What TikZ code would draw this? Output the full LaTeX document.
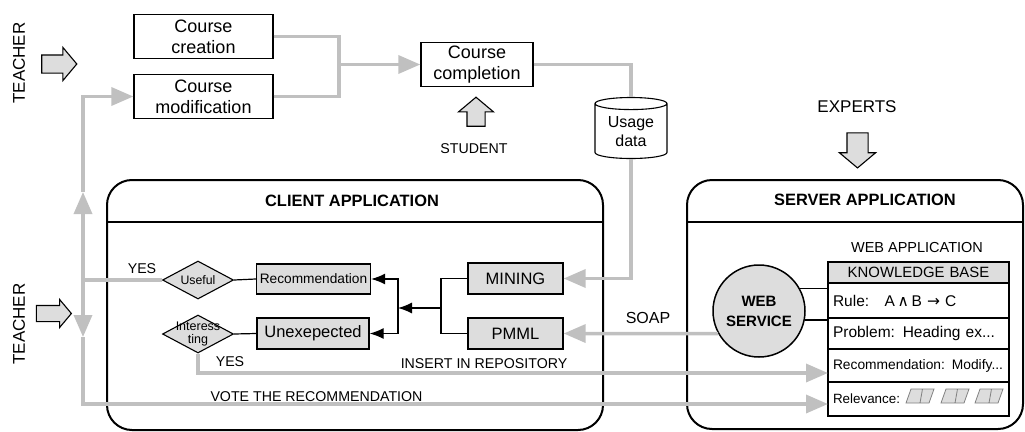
\documentclass[tikz,border=0pt]{standalone}
\usepackage{fontspec}
\setmainfont{Liberation Sans}
\newfontfamily\symbolfont{DejaVu Sans}
\usetikzlibrary{arrows.meta,positioning,shapes.geometric,shapes.arrows}
\definecolor{linegray}{RGB}{192,192,192}
\definecolor{boxgray}{RGB}{221,221,221}
\begin{document}
\begin{tikzpicture}
  [x=1pt,y=-1pt,
   course/.style={draw,line width=1.3pt,minimum width=139pt,minimum height=44pt,align=center,font=\fontsize{18}{21}\selectfont},
   proc/.style={draw,line width=1.3pt,fill=boxgray,minimum width=95pt,minimum height=31pt,font=\fontsize{16.5}{19}\selectfont},
   decision/.style={diamond,draw,line width=1.1pt,fill=boxgray,minimum width=71pt,minimum height=38pt,inner sep=0pt,aspect=1.9,font=\fontsize{12.3}{13}\selectfont},
   panel/.style={draw,line width=2pt,rounded corners=25pt},
   title/.style={font=\bfseries\fontsize{16.4}{19}\selectfont},
   tag/.style={font=\fontsize{14.2}{16}\selectfont},
   actor/.style={single arrow,draw,line width=1.1pt,fill=boxgray,inner xsep=0pt,single arrow tip angle=100},
   kbrow/.style={draw,line width=1.1pt,outer sep=0pt,text width=171pt,inner xsep=5pt,align=left,font=\fontsize{15.5}{18}\selectfont},
   gline/.style={draw=linegray,line width=3.5pt},
   garrow/.style={gline,-{Triangle[length=22pt,width=18pt]}},
   bline/.style={line width=1.2pt},
   barrow/.style={bline,-{Latex[length=14pt,width=11pt]}}]
  \useasboundingbox (0,0) rectangle (1025,431);

  \node[rotate=90,font=\fontsize{17}{20}\selectfont] (teacher1) at (19,63) {TEACHER};
  \node[actor,minimum height=35pt,inner ysep=8.5pt,single arrow head extend=7.5pt] (teacherarrow1) at (55.5,64) {};
  \node[course] (creation) at (203.5,36.5) {Course\\creation};
  \node[course] (modification) at (203.5,96.5) {Course\\modification};
  \node[course,minimum width=112pt] (completion) at (477,64.5) {Course\\completion};
  \node[actor,rotate=90,minimum height=29pt,inner ysep=8.5pt,single arrow head extend=8.5pt] (studentarrow) at (476,115.5) {};
  \node[tag] (student) at (474,149) {STUDENT};
  \node[cylinder,shape border rotate=90,draw,line width=1.1pt,aspect=0.25,minimum width=72pt,minimum height=61pt,align=center,inner sep=1pt,font=\fontsize{16}{19}\selectfont] (usage) at (631,132) {Usage\\data};
  \node[font=\fontsize{17}{20}\selectfont] (experts) at (857,107) {EXPERTS};
  \node[actor,rotate=-90,minimum height=35pt,inner ysep=10pt,single arrow head extend=7.5pt] (expertsarrow) at (857.5,146) {};

  \node[panel,minimum width=496pt,minimum height=250pt] (client) at (355,305) {};
  \draw[line width=1.5pt] ([yshift=-43pt]client.north west) -- ([yshift=-43pt]client.north east);
  \node[title] (clienttitle) at (352,201) {CLIENT APPLICATION};
  \node[panel,minimum width=336pt,minimum height=249pt] (server) at (855,304.5) {};
  \draw[line width=1.5pt] ([yshift=-43pt]server.north west) -- ([yshift=-43pt]server.north east);
  \node[title] (servertitle) at (865,200) {SERVER APPLICATION};

  \node[decision] (useful) at (198,280) {Useful};
  \node[decision,label={[align=center,font=\fontsize{12.5}{13}\selectfont]center:{Interess\\ting}}] (interesting) at (198,334) {};
  \node[proc,minimum width=111pt,minimum height=30pt,font=\fontsize{13.7}{16}\selectfont] (recommendation) at (313.5,279) {Recommendation};
  \node[proc,minimum width=112pt] (unexpected) at (313,333.5) {Unexepected};
  \node[proc] (mining) at (515.5,278.5) {MINING};
  \node[proc] (pmml) at (515.5,333.5) {PMML};
  \coordinate (split) at (398,308);
  \coordinate (merge) at (441,308);

  \node[circle,draw,line width=1.5pt,fill=boxgray,minimum size=92pt,align=center,inner sep=0pt,font=\bfseries\fontsize{15}{20}\selectfont] (webservice) at (759,311) {WEB\\SERVICE};
  \node[font=\fontsize{14.5}{17}\selectfont] (webapp) at (917,248) {WEB APPLICATION};
  \node[kbrow,fill=boxgray,minimum height=21pt,align=center,font=\fontsize{14.9}{17}\selectfont] (kbhead) at (918.5,272.5) {KNOWLEDGE BASE};
  \node[kbrow,minimum height=35pt,below=0pt of kbhead] (kbrule) {Rule:\quad A\,{\symbolfont∧}\,B {\symbolfont→} C};
  \node[kbrow,minimum height=31pt,below=0pt of kbrule] (kbprob) {Problem: Heading ex...};
  \node[kbrow,minimum height=33pt,below=0pt of kbprob,font=\fontsize{13.8}{16}\selectfont] (kbrec) {Recommendation: Modify...};
  \node[kbrow,minimum height=34pt,below=0pt of kbrec,font=\fontsize{13.4}{16}\selectfont] (kbrel) {Relevance:};
  \foreach \bx in {906,941,975}
    \draw[gray,fill=boxgray,line width=0.8pt] (\bx,403) -- (\bx+5,389) -- (\bx+28,389) -- (\bx+23,403) -- cycle
      (\bx+16.5,389) -- (\bx+14,403);

  \node[tag] (yes1) at (142,269) {YES};
  \node[tag] (yes2) at (230,362) {YES};
  \node[tag] (insert) at (484,364) {INSERT IN REPOSITORY};
  \node[tag] (vote) at (316.5,397) {VOTE THE RECOMMENDATION};
  \node[font=\fontsize{16}{19}\selectfont] (soap) at (648,318) {SOAP};

  \node[rotate=90,font=\fontsize{17}{20}\selectfont] (teacher2) at (19,324) {TEACHER};
  \node[actor,minimum height=35pt,inner ysep=7.5pt,single arrow head extend=6pt] (teacherarrow2) at (50.5,313.5) {};
  \coordinate (joincourse) at (339,64.5);
  \coordinate (yesjoin) at (83,280);
  \coordinate (upmark) at (83,192);
  \coordinate (downmark) at (83,337);

  \draw[gline] (creation.east) -| (joincourse) (modification.east) -| (joincourse);
  \draw[garrow] (joincourse) -- (completion.west);
  \draw[gline] (completion.east) -| (usage.north);
  \draw[garrow] (usage.south) |- (mining.east);
  \draw[garrow] (webservice.209) -- (pmml.east);
  \draw[bline] (webservice.29) -- (webservice.29 -| kbrule.west);
  \draw[bline] (webservice.-11) -- (webservice.-11 -| kbrule.west);
  \draw[bline] (useful.east) -- (recommendation.west);
  \draw[bline] (interesting.east) -- (unexpected.west);
  \draw[bline] (mining.west) -| (merge) |- (pmml.west);
  \draw[barrow] (merge) -- (split);
  \draw[barrow] (split) |- (recommendation.east);
  \draw[barrow] (split) |- (unexpected.east);
  \draw[gline] (useful.west) -- (yesjoin);
  \draw[garrow] (yesjoin) -- (upmark);
  \draw[garrow] (upmark) |- (modification.west);
  \draw[garrow] (yesjoin) -- (downmark);
  \draw[garrow] (downmark) |- ([yshift=-5pt]kbrel.west);
  \draw[garrow] (interesting.south) |- ([yshift=-7.5pt]kbrec.west);
\end{tikzpicture}
\end{document}
